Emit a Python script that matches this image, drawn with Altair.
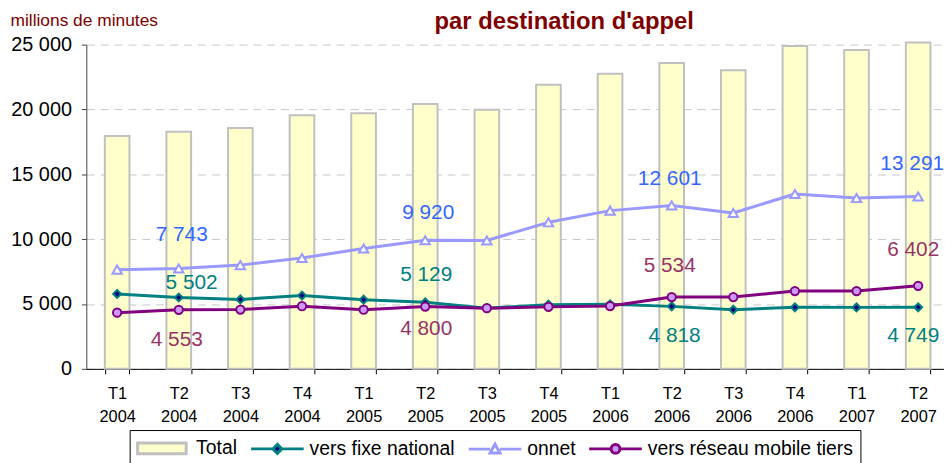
import altair as alt
import pandas as pd

# ---- data ----
periodes = ["T1 2004", "T2 2004", "T3 2004", "T4 2004",
            "T1 2005", "T2 2005", "T3 2005", "T4 2005",
            "T1 2006", "T2 2006", "T3 2006", "T4 2006",
            "T1 2007", "T2 2007"]
total = [17950, 18290, 18570, 19560, 19710, 20430, 19970,
         21900, 22750, 23590, 23030, 24890, 24580, 25170]
fixe = [5780, 5502, 5350, 5650, 5330, 5129, 4680,
        4950, 4980, 4818, 4560, 4749, 4740, 4749]
onnet = [7650, 7743, 8000, 8550, 9280, 9920, 9900,
         11300, 12200, 12601, 12020, 13480, 13170, 13291]
mobile = [4330, 4553, 4570, 4830, 4560, 4800, 4680,
          4780, 4840, 5534, 5534, 6000, 6000, 6402]

series = ["Total", "vers fixe national", "onnet", "vers réseau mobile tiers"]
codes = ["total", "fixe", "onnet", "mobile"]
y_ticks = [0, 5000, 10000, 15000, 20000, 25000]
titre = "par destination d'appel"

# labelled points (series code, period index) with text offsets (style)
label_specs = [
    ("onnet", 1, 3, -34), ("onnet", 5, 3, -27), ("onnet", 9, -2, -27), ("onnet", 13, -6, -33),
    ("fixe", 1, 13, -15), ("fixe", 5, 1, -28), ("fixe", 9, 3, 30), ("fixe", 13, -5, 29),
    ("mobile", 1, -2, 31), ("mobile", 5, 1, 23), ("mobile", 9, -2, -31), ("mobile", 13, -5, -36),
]

FONT = "Liberation Sans"
label_colors = {"onnet": "#3366FF", "fixe": "#008080", "mobile": "#993366"}

rows = []
for name, code, vals in zip(series, codes, [total, fixe, onnet, mobile]):
    for i, (p, v) in enumerate(zip(periodes, vals)):
        rows.append({"periode": p, "serie": name, "code": code, "valeur": v, "idx": i})
df = pd.DataFrame(rows)

x_enc = alt.X(
    "periode:N",
    scale=alt.Scale(type="band", domain=periodes, range=[0, 870],
                    paddingInner=0.6, paddingOuter=0.3),
    axis=alt.Axis(title=None, labelExpr="split(datum.label, ' ')", labelFont=FONT,
                  labelFontSize=16.5, labelColor="black", labelLineHeight=23,
                  labelPadding=12, labelAngle=0, tickBand="extent", tickSize=5,
                  tickColor="black", domainColor="black", grid=False),
)
y_enc = alt.Y(
    "valeur:Q",
    scale=alt.Scale(domain=[0, 25000], nice=False),
    axis=alt.Axis(values=y_ticks, labelExpr="replace(format(datum.value, ','), ',', ' ')",
                  labelFont=FONT, labelFontSize=20, labelColor="black", labelPadding=10,
                  tickSize=5, tickColor="#444444", domainColor="#444444",
                  grid=True, gridDash=[8, 6], gridColor="#C8C8C8",
                  title="millions de minutes", titleAngle=0, titleX=-77, titleY=-19,
                  titleAlign="left", titleBaseline="alphabetic", titleColor="#800000",
                  titleFont=FONT, titleFontSize=17.5, titleFontWeight="normal"),
)

base = alt.Chart(df)

bars = base.transform_filter("datum.code == 'total'").mark_bar(
    fill="#FFFFCC", stroke="#C0C0C0", strokeWidth=2
).encode(x=x_enc, y=y_enc)

line_styles = {
    "onnet": dict(color="#9999FF", shape="triangle-up", fill="white", size=90),
    "fixe": dict(color="#008080", shape="diamond", fill="#000080", size=64),
    "mobile": dict(color="#800080", shape="circle", fill="#CC99FF", size=70),
}
layers = [bars]
for code in ["onnet", "fixe", "mobile"]:
    st = line_styles[code]
    sub = base.transform_filter(f"datum.code == '{code}'")
    layers.append(sub.mark_line(color=st["color"], strokeWidth=3, strokeJoin="round")
                  .encode(x=x_enc, y=y_enc))
    layers.append(sub.mark_point(shape=st["shape"], filled=True, fill=st["fill"],
                                 stroke=st["color"], strokeWidth=2, size=st["size"], opacity=1)
                  .encode(x=x_enc, y=y_enc))

for code, i, dx, dy in label_specs:
    layers.append(
        base.transform_filter(f"datum.code == '{code}' && datum.idx == {i}")
        .transform_calculate(lbl="replace(format(datum.valeur, ','), ',', ' ')")
        .mark_text(dx=dx, dy=dy, font=FONT, fontSize=21, color=label_colors[code],
                   align="center", baseline="middle")
        .encode(x=x_enc, y=y_enc, text="lbl:N")
    )

# chart title (second line of the original title)
layers.append(
    alt.Chart(pd.DataFrame({"t": [titre]})).mark_text(
        font=FONT, fontSize=24, fontWeight="bold", color="#800000",
        align="center", baseline="alphabetic"
    ).encode(x=alt.value(482), y=alt.value(-16), text="t:N")
)

# legend (symbols combine a line stub and a marker)
leg_paths = [
    "M-1.05,-0.55 L3.85,-0.55 L3.85,0.55 L-1.05,0.55 Z",
    "M-1.05,0 L1.15,0 M2.05,0 L4.25,0 M1.6,-0.45 L2.05,0 L1.6,0.45 L1.15,0 Z",
    "M-1.05,0 L1.1,0 M2.1,0 L4.25,0 M1.6,-0.5 L2.1,0.4 L1.1,0.4 Z",
    "M-1.05,0 L1.15,0 M2.05,0 L4.25,0 M2.05,0 A0.45,0.45 0 1,1 1.15,0 A0.45,0.45 0 1,1 2.05,0 Z",
]
leg_fill = ["#FFFFCC", "#000080", "#FFFFFF", "#CC99FF"]
leg_stroke = ["#C0C0C0", "#008080", "#9999FF", "#800080"]

leg = alt.Legend(title=None, orient="none", legendX=43.7, legendY=388.7,
                 direction="horizontal", columns=4, symbolSize=400, symbolStrokeWidth=3,
                 labelFont=FONT, labelFontSize=19.5, labelColor="black", labelOffset=37,
                 columnPadding=7.5, padding=7, strokeColor="black", fillColor="white",
                 labelLimit=400)

legend_layer = base.transform_filter("false").mark_point(
    filled=True, opacity=1, strokeWidth=3, size=400
).encode(
    x=x_enc, y=y_enc,
    color=alt.Color("serie:N", scale=alt.Scale(domain=series, range=leg_fill), legend=leg),
    stroke=alt.Stroke("serie:N", scale=alt.Scale(domain=series, range=leg_stroke), legend=leg),
    shape=alt.Shape("serie:N", scale=alt.Scale(domain=series, range=leg_paths), legend=leg),
)
layers.append(legend_layer)

chart = alt.layer(*layers).properties(
    width=865, height=327,
    autosize=alt.AutoSizeParams(type="none"),
    padding={"left": 79, "top": 35, "right": 0, "bottom": 93},
).configure_view(stroke=None)

chart.save("out.html", embed_options={"renderer": "svg", "actions": False})
